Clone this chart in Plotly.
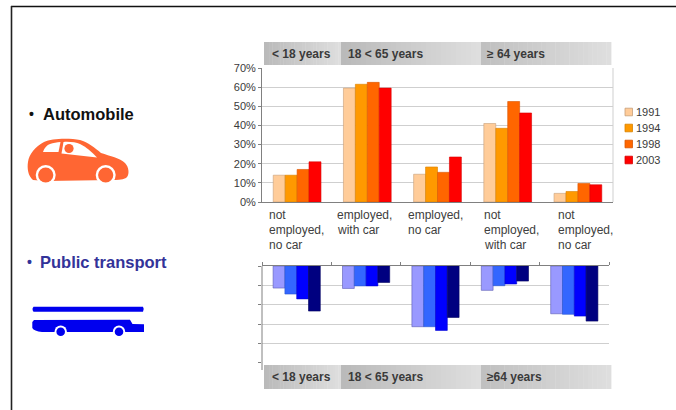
import plotly.graph_objects as go

# Survey groups along the shared x axis
segment_lines = [["not", "employed,", "no car"], ["employed,", "with car"], ["employed,", "no car"],
                 ["not", "employed,", "with car"], ["not", "employed,", "no car"]]
positions = list(range(len(segment_lines)))
years = ["1991", "1994", "1998", "2003"]

# Automobile share, percent
car_1991 = [14, 59.5, 14.5, 41, 4.5]
car_1994 = [14, 61.5, 18.3, 38.5, 5.5]
car_1998 = [17, 62.5, 15.5, 52.5, 9.7]
car_2003 = [21, 59.5, 23.5, 46.5, 9]

# Public transport share, percent, drawn downwards
pt_1991 = [-11.4, -11.6, -31.4, -12.6, -24.7]
pt_1994 = [-14.5, -10.3, -31.4, -10.2, -25]
pt_1998 = [-17, -10.3, -33.3, -9.3, -25.9]
pt_2003 = [-23.3, -8.5, -26.6, -7.8, -28.5]

car_colors = ["#FFCC99", "#FF9900", "#FF6600", "#FF0000"]
car_edges = ["#C8A078", "#D88200", "#D85600", "#D80000"]
pt_colors = ["#9999FF", "#3366FF", "#0000FF", "#000080"]
pt_edges = ["#5A5AB4", "#2A55D0", "#0000D0", "#000060"]

W, H = 676, 410
TEXT = "#3A3A3A"
FONT = "Liberation Sans"

fig = go.Figure()
for name, vals, col, edge in zip(years, [car_1991, car_1994, car_1998, car_2003], car_colors, car_edges):
    fig.add_bar(x=positions, y=vals, name=name, marker=dict(color=col, line=dict(color=edge, width=0.6)),
                xaxis="x", yaxis="y", showlegend=False)
for name, vals, col, edge in zip(years, [pt_1991, pt_1994, pt_1998, pt_2003], pt_colors, pt_edges):
    fig.add_bar(x=positions, y=vals, name=name, marker=dict(color=col, line=dict(color=edge, width=0.6)),
                xaxis="x2", yaxis="y2", showlegend=False)
# Invisible carrier for the pixel-space overlay axes
fig.add_scatter(x=[0, W], y=[0, H], mode="markers", marker=dict(opacity=0), xaxis="x3", yaxis="y3",
                showlegend=False, hoverinfo="skip")

shapes = []


def px_shape(**kw):
    shapes.append(dict(xref="x3", yref="y3", **kw))


def rect(x0, y0, x1, y1, fill):
    px_shape(type="rect", x0=x0, y0=y0, x1=x1, y1=y1, fillcolor=fill, line=dict(width=0), layer="below")


def band(x0, x1, y0, y1, start, end, steps=28):
    # Horizontal grey ramp built from thin strips
    dx = (x1 - x0) / steps
    for i in range(steps):
        v = round(start + (end - start) * i / (steps - 1))
        rect(x0 + i * dx, y0, x0 + (i + 1) * dx + 0.4, y1, f"rgb({v},{v},{v})")


# Slide frame
px_shape(type="line", x0=11, y0=6.5, x1=676, y1=6.5, line=dict(color="#111111", width=1.6))
px_shape(type="line", x0=11.5, y0=6, x1=11.5, y1=410, line=dict(color="#222222", width=1.6))

# Age headers above and below the panels
for y0, y1 in [(42, 65), (365, 389)]:
    band(264, 341, y0, y1, 186, 222)
    band(341, 481, y0, y1, 186, 222)
    band(481, 611, y0, y1, 192, 222)

# Car icon
CAR = "#FF6633"
px_shape(type="path", fillcolor=CAR, line=dict(width=0),
         path="M 33 180 C 28 176 27 168 28 162 C 29 154 36 146 44 142 C 52 138 70 138 80 140 "
              "C 88 142 95 148 101 153 C 110 156 120 158 125 163 C 129 167 130 175 126 178 "
              "C 122 180 116 180 112 180 L 46 181 Z")
px_shape(type="path", fillcolor="white", line=dict(width=0),
         path="M 43 152 C 44 148 47 145 50 144 C 53 143 57 142 60.5 142 L 58.5 152 Z")
px_shape(type="path", fillcolor="white", line=dict(width=0),
         path="M 63.5 142 C 70 141.5 76 142.5 80 144 C 86 147 92 152 97 157.5 L 61.5 153.5 Z")
for cx, cy, r, col in [(69, 148.5, 4.6, CAR), (45.7, 175, 10, "white"), (45.7, 175, 7.6, CAR),
                       (105.7, 175, 10, "white"), (105.7, 175, 7.6, CAR)]:
    px_shape(type="circle", x0=cx - r, x1=cx + r, y0=cy - r, y1=cy + r, fillcolor=col, line=dict(width=0))

# Bus icon
BUS = "#0000EE"
px_shape(type="path", fillcolor=BUS, line=dict(width=0),
         path="M 33.5 306.8 L 143 306.8 Q 144.5 309 143 311.8 L 33.5 311.8 Q 31.5 309 33.5 306.8 Z")
px_shape(type="path", fillcolor=BUS, line=dict(width=0),
         path="M 34 320 L 130 319.8 L 132.5 324 L 144 324.2 L 144 332 L 42 332 Q 34 331 32.3 328 L 32.3 322 Z")
for cx, r, col in [(60.7, 6.2, "white"), (60.7, 4.3, BUS), (119, 6.2, "white"), (119, 4.3, BUS)]:
    px_shape(type="circle", x0=cx - r, x1=cx + r, y0=331.7 - r, y1=331.7 + r, fillcolor=col, line=dict(width=0))

# Lower y axis runs on past its last gridline, into the header
px_shape(type="line", x0=262, y0=266, x1=262, y1=370, line=dict(color="#808080", width=1))

# Right border of the automobile panel
px_shape(type="line", x0=613, x1=613, y0=68, y1=202, line=dict(color="#CFCFCF", width=1), layer="below")

# Legend swatches
for i, (col, edge) in enumerate(zip(car_colors, car_edges)):
    y = 112 + i * 16
    px_shape(type="rect", x0=625, x1=632.5, y0=y - 3.8, y1=y + 3.8, fillcolor=col, line=dict(color=edge, width=0.8))

annotations = []


def label(x, y, text, size=11, color=TEXT, bold=False):
    annotations.append(dict(xref="x3", yref="y3", x=x - 2, y=y, text=f"<b>{text}</b>" if bold else text,
                            showarrow=False, xanchor="left", yanchor="middle", align="left",
                            font=dict(family=FONT, size=size, color=color)))


label(272, 54, "&lt; 18 years", 12, TEXT, True)
label(348, 54, "18 &lt; 65 years", 12, TEXT, True)
label(487, 54, "≥ 64 years", 12, TEXT, True)
label(272, 377, "&lt; 18 years", 12, TEXT, True)
label(348, 377, "18 &lt; 65 years", 12, TEXT, True)
label(487, 377, "≥64 years", 12, TEXT, True)

label_lefts = [269, 336.5, 407.5, 483.5, 558]
for left, lines in zip(label_lefts, segment_lines):
    for j, line in enumerate(lines):
        label(left, 214.7 + j * 15, line, 12, "#404040")

for i, yr in enumerate(years):
    label(636, 112 + i * 16, yr, 11)

label(29, 114, "•", 14, "#111111", True)
label(43, 114, "Automobile", 16.5, "#111111", True)
label(27, 262, "•", 14, "#333399", True)
label(40, 262, "Public transport", 16.5, "#333399", True)

GRID = "#CFCFCF"
AXIS = "#808080"
fig.update_layout(
    width=W, height=H, margin=dict(l=0, r=0, t=0, b=0, pad=0, autoexpand=False), autosize=False,
    paper_bgcolor="white", plot_bgcolor="rgba(0,0,0,0)",
    barmode="group", bargap=0.32, bargroupgap=0, showlegend=False,
    font=dict(family=FONT, size=11, color=TEXT),
    shapes=shapes, annotations=annotations,
    xaxis=dict(domain=[262 / W, 613 / W], range=[-0.5, 4.5], anchor="y", showticklabels=False, ticks="",
               showgrid=False, showline=True, linecolor=AXIS, linewidth=1, zeroline=False),
    yaxis=dict(domain=[1 - 202 / H, 1 - 68 / H], range=[0, 70], anchor="x", tickvals=list(range(0, 71, 10)),
               ticktext=[f"{v}%" for v in range(0, 71, 10)], ticks="outside", ticklen=3, tickcolor=AXIS,
               showgrid=True, gridcolor=GRID, gridwidth=1, showline=True, linecolor=AXIS, zeroline=False,
               tickfont=dict(family=FONT, size=11, color=TEXT)),
    xaxis2=dict(domain=[262 / W, 609 / W], range=[-0.5, 4.5], anchor="y2", side="top", showticklabels=False,
                tickvals=[-0.5, 0.5, 1.5, 2.5, 3.5, 4.5], ticks="outside", ticklen=3, tickcolor=AXIS,
                showgrid=False, showline=True, linecolor=AXIS, linewidth=1, zeroline=False),
    yaxis2=dict(domain=[1 - 362.7 / H, 1 - 266 / H], range=[-50, 0], anchor="x2", tickvals=list(range(-50, 1, 10)),
                showticklabels=False, ticks="outside", ticklen=3, tickcolor=AXIS,
                showgrid=True, gridcolor=GRID, gridwidth=1, showline=False, zeroline=False),
    xaxis3=dict(domain=[0, 1], range=[0, W], anchor="y3", visible=False, fixedrange=True),
    yaxis3=dict(domain=[0, 1], range=[H, 0], anchor="x3", visible=False, fixedrange=True),
)

fig.write_html("out.html", config=dict(displayModeBar=False))
